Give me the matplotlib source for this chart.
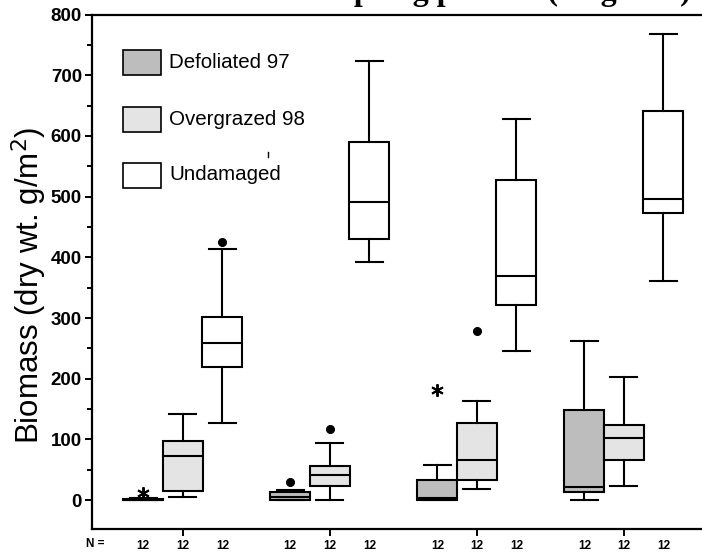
import matplotlib
matplotlib.use("Agg")
import matplotlib.pyplot as plt
from matplotlib.patches import Rectangle
from matplotlib.lines import Line2D

# ---- data -------------------------------------------------------------
groups = [1, 2, 3, 4]
treatments = ["Defoliated 97", "Overgrazed 98", "Undamaged"]
fills = ["#bdbdbd", "#e4e4e4", "#ffffff"]
n_labels = ["12"] * 12

# box statistics per treatment: one value per group
defol_whislo = [0, 0, 0, 0]
defol_q1 = [0, 0, 0, 13]
defol_med = [1, 5, 3, 21]
defol_q3 = [2, 13, 34, 149]
defol_whishi = [3, 16, 58, 262]
defol_outliers = [[], [30], [], []]
defol_extremes = [[12], [], [181], []]

over_whislo = [4.5, 0, 19, 24]
over_q1 = [15, 23, 34, 66]
over_med = [72.5, 41, 66, 102]
over_q3 = [97, 56, 127, 124]
over_whishi = [142, 94, 164, 203]
over_outliers = [[], [116.5], [278], []]
over_extremes = [[], [], [], []]

undam_whislo = [127, 393, 246, 361]
undam_q1 = [220, 431, 321, 473]
undam_med = [259, 491, 369, 496]
undam_q3 = [301, 590, 527, 641]
undam_whishi = [414, 723, 628, 768]
undam_outliers = [[426], [], [], []]
undam_extremes = [[], [], [], []]

series = [
    (defol_whislo, defol_q1, defol_med, defol_q3, defol_whishi, defol_outliers, defol_extremes),
    (over_whislo, over_q1, over_med, over_q3, over_whishi, over_outliers, over_extremes),
    (undam_whislo, undam_q1, undam_med, undam_q3, undam_whishi, undam_outliers, undam_extremes),
]

# ---- figure -----------------------------------------------------------
W, H = 702, 552
fig = plt.figure(figsize=(W / 100, H / 100), dpi=100)
plt.rcParams["font.family"] = ["Liberation Sans", "DejaVu Sans"]

ax = fig.add_axes([91.7 / W, 22.7 / H, 1.05, (529.3 - 14.6) / H])
ax.set_ylim(-48, 800)
ax.set_xlim(0.380, 5.394)

offsets = [-0.269, 0.0, 0.269]
box_w = 0.272
cap_w = 0.184
lw = 1.5

for (wlo, q1, med, q3, whi, outl, extr), off, fc in zip(series, offsets, fills):
    stats = []
    for i in range(len(groups)):
        stats.append(dict(whislo=wlo[i], q1=q1[i], med=med[i], q3=q3[i],
                          whishi=whi[i], fliers=outl[i]))
    pos = [g + off for g in groups]
    ax.bxp(stats, positions=pos, widths=box_w, capwidths=cap_w,
           patch_artist=True, showfliers=True, manage_ticks=False,
           boxprops=dict(facecolor=fc, edgecolor="black", linewidth=lw),
           medianprops=dict(color="black", linewidth=lw),
           whiskerprops=dict(color="black", linewidth=lw),
           capprops=dict(color="black", linewidth=lw),
           flierprops=dict(marker="o", markerfacecolor="black",
                           markeredgecolor="black", markersize=5.5))
    for p, ex in zip(pos, extr):
        if ex:
            ax.plot([p] * len(ex), ex, linestyle="none", marker=(6, 2, 0),
                    markersize=9, color="black", markeredgewidth=1.4)

# ---- axes styling -----------------------------------------------------
for side in ["left", "bottom", "top", "right"]:
    ax.spines[side].set_linewidth(1.6)

ax.set_yticks(range(0, 801, 100))
ax.set_yticks(range(50, 800, 100), minor=True)
ax.tick_params(axis="y", which="major", length=5, width=1.4, direction="out",
               labelsize=13.5, pad=2)
ax.tick_params(axis="y", which="minor", length=3.5, width=1.4, direction="out")
for lab in ax.get_yticklabels():
    lab.set_fontweight("bold")

ax.set_xticks(groups)
ax.set_xticklabels([])
ax.tick_params(axis="x", which="major", length=5, width=1.4, direction="out")

ax.set_ylabel("Biomass (dry wt. g/m$^2$)", fontsize=22.5)
ax.yaxis.set_label_coords((29 - 91.7) / (W * 1.05), (529.3 - 285) / (529.3 - 14.6))
ax.yaxis.label.set_verticalalignment("center")

# sample sizes under the axis
n_pos = [g + off for g in groups for off in offsets]
for x, t in zip(n_pos, n_labels):
    ax.text(x, -0.032, t, transform=ax.get_xaxis_transform(), ha="center",
            va="center", fontsize=8.5, fontweight="bold")
fig.text(95 / W, 1 - 544 / H, "N =", ha="center", va="center",
         fontsize=8.5, fontweight="bold")

# ---- legend -----------------------------------------------------------
leg_rows = [62, 119.5, 175]
for (ty, label, fc) in zip(leg_rows, treatments, fills):
    fig.patches.append(Rectangle((122.7 / W, 1 - (ty + 12.5) / H), 38 / W, 25 / H,
                                 transform=fig.transFigure, facecolor=fc,
                                 edgecolor="black", linewidth=1.2))
    fig.text(169 / W, 1 - ty / H, label, ha="left", va="center", fontsize=14.8)

fig.add_artist(Line2D([268 / W, 268 / W], [1 - 152 / H, 1 - 157 / H],
                      color="black", linewidth=1.0))

# ---- title (runs off the top edge) ------------------------------------
fig.text(336 / W, 1.0, "Spring pasture (Ongi site)", ha="left",
         va="baseline", fontsize=23, fontweight="bold",
         family=["Liberation Serif", "DejaVu Serif"])

fig.savefig("out.png", dpi=100)
